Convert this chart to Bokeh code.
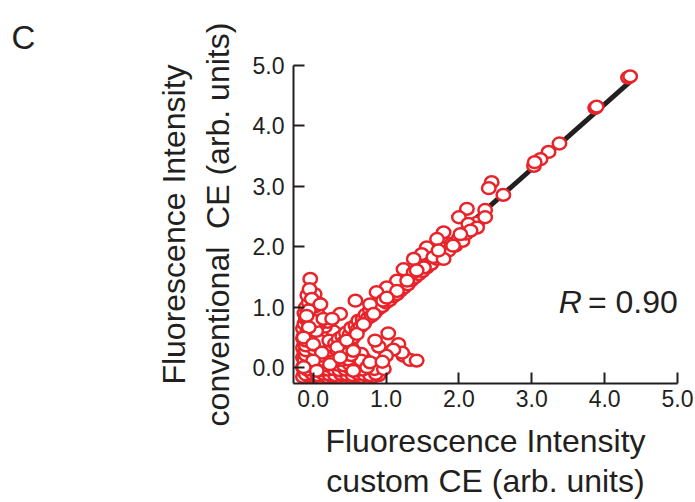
from bokeh.plotting import figure
from bokeh.models import (Range1d, FixedTicker, NumeralTickFormatter, Label, ColumnDataSource,
                          LinearAxis)
from bokeh.embed import file_html
from bokeh.resources import INLINE

# ---------------- data ----------------
# dense cluster near the origin
cluster_x = [-0.14, -0.06, 0.02, 0.10, 0.18, 0.26, 0.34, 0.42, 0.50, 0.58, 0.66, 0.74, 0.82, 0.90,
             -0.12, -0.02, 0.08, 0.16, 0.24, 0.32, 0.40, 0.48, 0.56, 0.64, 0.72, 0.80, 0.88,
             -0.14, -0.04, 0.06, 0.14, 0.22, 0.30, 0.38, 0.46, 0.56, 0.66, 0.76, 0.86,
             -0.10, 0.00, 0.10, 0.20, 0.28, 0.36, 0.44, 0.52, 0.62, 0.72, 0.80,
             -0.14, -0.04, 0.06, 0.16, 0.26, 0.34, 0.42, 0.50, 0.60, 0.70,
             -0.12, -0.02, 0.08, 0.18, 0.28, 0.36, 0.46, 0.56, 0.66,
             -0.14, -0.04, 0.06, 0.16, 0.26, 0.34, 0.44, 0.52,
             -0.12, -0.02, 0.08, 0.18, 0.28, 0.38, 0.46,
             -0.14, -0.04, 0.06, 0.16, 0.24, 0.34,
             -0.12, -0.02, 0.08, 0.18, 0.28,
             -0.14, -0.04, 0.06, 0.16,
             -0.12, -0.02, 0.08, 0.20,
             -0.10, 0.00, 0.12,
             -0.12, -0.02, 0.06,
             -0.10, 0.02,
             -0.06, 0.08]
cluster_y = [-0.15, -0.14, -0.15, -0.13, -0.15, -0.14, -0.15, -0.13, -0.15, -0.14, -0.15, -0.13, -0.15, -0.12,
             -0.07, -0.06, -0.08, -0.05, -0.07, -0.06, -0.08, -0.05, -0.07, -0.06, -0.08, -0.04, -0.06,
             0.01, 0.02, 0.00, 0.03, 0.01, 0.02, 0.00, 0.03, 0.01, 0.02, 0.00, 0.03,
             0.09, 0.10, 0.08, 0.11, 0.09, 0.10, 0.08, 0.11, 0.09, 0.10, 0.07,
             0.17, 0.18, 0.16, 0.19, 0.17, 0.18, 0.16, 0.19, 0.17, 0.15,
             0.25, 0.26, 0.24, 0.27, 0.25, 0.26, 0.24, 0.27, 0.23,
             0.33, 0.34, 0.32, 0.35, 0.33, 0.34, 0.32, 0.36,
             0.41, 0.42, 0.40, 0.43, 0.41, 0.42, 0.44,
             0.49, 0.50, 0.48, 0.51, 0.49, 0.52,
             0.57, 0.58, 0.56, 0.59, 0.60,
             0.65, 0.66, 0.64, 0.68,
             0.73, 0.74, 0.72, 0.76,
             0.81, 0.82, 0.80,
             0.90, 0.91, 0.89,
             1.00, 1.01,
             1.08, 1.06]

# extra points filling the cluster between the rows above
fill_x = [-0.10, -0.01, 0.06, 0.14, 0.22, 0.30, 0.38, 0.46, 0.54, 0.62, 0.70, 0.78, 0.86,
          -0.08, 0.03, 0.12, 0.20, 0.28, 0.36, 0.44, 0.52, 0.60, 0.68, 0.84,
          -0.12, -0.01, 0.04, 0.18, 0.26, 0.34, 0.42, 0.50, 0.60, 0.70,
          -0.12, -0.02, 0.04, 0.14, 0.24, 0.32, 0.40, 0.48, 0.66,
          -0.10, 0.02, 0.12, 0.22, 0.30, 0.40, 0.52,
          -0.10, 0.02, 0.12, 0.22, 0.32, 0.40,
          -0.10, 0.02, 0.12, 0.22,
          -0.10, 0.02, 0.10, 0.22,
          -0.08, 0.04, -0.06, 0.04, -0.06, -0.08, 0.02]
fill_y = [-0.11, -0.10, -0.12, -0.10, -0.11, -0.12, -0.10, -0.11, -0.12, -0.10, -0.11, -0.12, -0.10,
          -0.03, -0.02, -0.04, -0.03, -0.02, -0.04, -0.03, -0.02, -0.04, -0.03, -0.02,
          0.05, 0.06, 0.05, 0.04, 0.06, 0.05, 0.04, 0.06, 0.05, 0.04,
          0.13, 0.14, 0.12, 0.13, 0.14, 0.12, 0.13, 0.14, 0.12,
          0.21, 0.22, 0.20, 0.21, 0.22, 0.20, 0.21,
          0.29, 0.30, 0.28, 0.29, 0.30, 0.28,
          0.37, 0.38, 0.36, 0.37,
          0.45, 0.46, 0.44, 0.45,
          0.60, 0.61, 0.78, 0.77, 0.95, 1.20, 1.22]

# diagonal band
band_x = [0.30, 0.35, 0.40, 0.42, 0.45, 0.50, 0.52, 0.55, 0.58, 0.60, 0.62, 0.65, 0.68, 0.70, 0.72,
          0.75, 0.78, 0.80, 0.82, 0.85, 0.88, 0.90, 0.92, 0.95, 0.98, 1.00, 1.03, 1.05, 1.08, 1.10,
          1.12, 1.15, 1.18, 1.20, 1.23, 1.25, 1.28, 1.30, 1.33, 1.35, 1.38, 1.40, 1.43, 1.45, 1.48,
          1.50, 1.53, 1.56, 1.60, 1.62, 1.66, 1.70, 1.74, 1.78, 1.82, 1.86, 1.90, 1.95, 2.00, 2.05,
          2.10, 2.18, 2.25]
band_y = [0.40, 0.48, 0.52, 0.42, 0.58, 0.55, 0.66, 0.50, 0.70, 0.62, 0.78, 0.68, 0.80, 0.74, 0.88,
          0.82, 0.95, 0.86, 1.00, 0.92, 1.05, 0.98, 1.10, 1.02, 1.15, 1.08, 1.20, 1.12, 1.24, 1.18,
          1.30, 1.22, 1.34, 1.28, 1.40, 1.33, 1.46, 1.38, 1.52, 1.45, 1.56, 1.50, 1.62, 1.55, 1.66,
          1.60, 1.72, 1.66, 1.78, 1.72, 1.84, 1.80, 1.92, 1.86, 1.98, 1.94, 2.05, 2.02, 2.14, 2.10,
          2.22, 2.30, 2.40]

# individually visible points (lobes)
lobe_x = [-0.04, -0.05, -0.02, 0.10, -0.09, -0.06, 0.14, -0.13, 0.00, 0.12, 0.00, -0.13, 0.05, 0.23,
          0.33, 0.46, 0.60, 0.69, 0.37, 0.55, 0.74, 0.78, 0.97, 0.55,
          1.03, 1.17, 1.24, 1.33, 1.42, 1.22, 1.10, 1.00, 0.90, 0.95, 0.85]
lobe_y = [1.47, 1.30, 1.14, 1.05, 0.86, 0.67, 0.81, 0.50, 0.39, 0.25, 0.12, 0.01, -0.05, 0.06,
          0.34, 0.45, 0.56, 0.72, 0.17, -0.05, 0.01, 0.09, -0.02, 0.28,
          0.57, 0.39, 0.20, 0.13, 0.12, 0.25, 0.30, 0.20, 0.35, 0.10, 0.45]

# individually visible points along the upper diagonal
upper_x = [4.32, 4.35, 3.87, 3.89, 3.38, 3.23, 3.12, 3.03, 3.04, 2.45, 2.41, 2.61, 2.36, 2.36,
           2.11, 2.00, 2.13, 2.25, 2.16, 1.79, 1.70, 1.92, 2.02, 1.56, 1.49, 1.65, 1.79, 1.72,
           1.38, 1.24, 1.38, 1.52, 1.15, 1.01, 1.15, 1.29, 1.42, 0.87, 0.78, 0.58, 0.96, 0.83,
           1.01, 0.37, 0.26]
upper_y = [4.80, 4.82, 4.30, 4.32, 3.71, 3.57, 3.45, 3.34, 3.40, 3.07, 2.97, 2.86, 2.61, 2.49,
           2.63, 2.49, 2.38, 2.32, 2.27, 2.24, 2.13, 2.02, 2.21, 1.99, 1.88, 1.83, 1.80, 1.94,
           1.80, 1.63, 1.58, 1.66, 1.44, 1.33, 1.27, 1.44, 1.61, 1.25, 1.05, 1.11, 1.11, 0.89,
           1.16, 0.89, 0.81]

# linear fit
fit_x = [0.0, 4.35]
fit_slope = 1.07
fit_intercept = 0.08
r_value = "0.90"

ticks = [0, 1, 2, 3, 4, 5]
x_title = ["Fluorescence Intensity", "custom CE (arb. units)"]
y_title = ["Fluorescence Intensity", "conventional\u00a0 CE (arb. units)"]

# ---------------- figure ----------------
RED = "#E8242A"
INK = "#231F20"
FONT = "Liberation Sans"

p = figure(width=695, height=502, output_backend="svg", toolbar_location=None,
           x_range=Range1d(-0.27, 5.0), y_range=Range1d(-0.26, 5.0),
           min_border_left=293, min_border_right=18, min_border_top=65, min_border_bottom=119)
p.outline_line_color = None
p.grid.visible = False
p.background_fill_color = "white"
p.border_fill_color = "white"

p.title.text = "C"
p.title.align = "left"
p.title.offset = -282
p.title.standoff = 19
p.title.text_font = FONT
p.title.text_font_size = "33px"
p.title.text_font_style = "normal"
p.title.text_color = INK

fit_y = [fit_intercept + fit_slope * v for v in fit_x]
p.line(fit_x, fit_y, line_color=INK, line_width=5)

all_x = cluster_x + fill_x + band_x + lobe_x + upper_x
all_y = cluster_y + fill_y + band_y + lobe_y + upper_y
src = ColumnDataSource(data=dict(x=all_x, y=all_y))
p.ellipse(x="x", y="y", width=0.185, height=0.195, source=src,
          fill_color="white", line_color=RED, line_width=2.5)

for ax in (p.xaxis[0], p.yaxis[0]):
    ax.ticker = FixedTicker(ticks=ticks)
    ax.formatter = NumeralTickFormatter(format="0.0")
    ax.minor_tick_line_color = None
    ax.major_tick_in = 11
    ax.major_tick_out = 0
    ax.axis_line_width = 2
    ax.major_tick_line_width = 2
    ax.axis_line_color = INK
    ax.major_tick_line_color = INK
    ax.major_label_text_font = FONT
    ax.major_label_text_font_size = "23px"
    ax.major_label_text_color = INK
    ax.axis_label_text_font = FONT
    ax.axis_label_text_font_size = "32px"
    ax.axis_label_text_font_style = "normal"
    ax.axis_label_text_color = INK
    ax.axis_label_text_line_height = 1.2

p.xaxis.major_label_standoff = 6
p.yaxis.major_label_standoff = 9
p.xaxis[0].axis_label = x_title[0]
p.xaxis[0].axis_label_standoff = 13
p.yaxis.axis_label = "\n".join(y_title)
p.yaxis.axis_label_standoff = 14

# second line of the x title, carried by a bare axis below the first one
x2 = LinearAxis(ticker=FixedTicker(ticks=[]), axis_label=x_title[1],
                axis_line_color=None, major_tick_line_color=None, minor_tick_line_color=None,
                major_tick_in=0, major_tick_out=0, minor_tick_in=0, minor_tick_out=0,
                major_label_standoff=0, axis_label_standoff=1,
                axis_label_text_font=FONT, axis_label_text_font_size="32px",
                axis_label_text_font_style="normal", axis_label_text_color=INK)
p.add_layout(x2, "below")

p.add_layout(Label(x=3.37, y=1.08, text="R", text_font=FONT, text_font_size="32px",
                   text_font_style="italic", text_color=INK, text_baseline="alphabetic"))
p.add_layout(Label(x=3.77, y=1.08, text="= " + r_value, text_font=FONT, text_font_size="32px",
                   text_color=INK, text_baseline="alphabetic"))

open("out.html", "w").write(file_html(p, INLINE))
